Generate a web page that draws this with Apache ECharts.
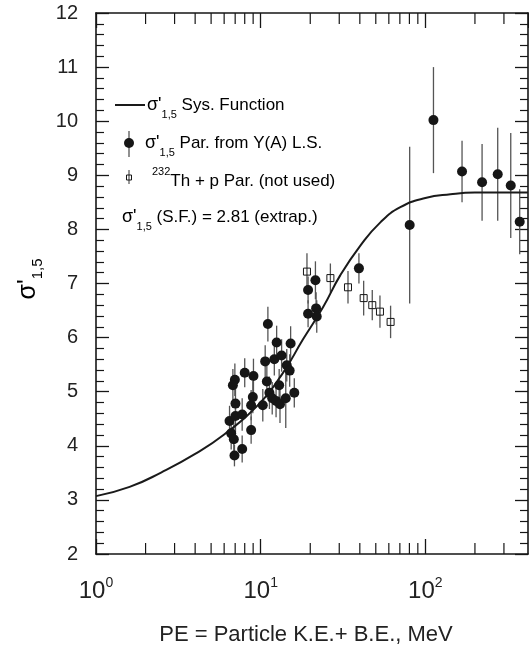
<!DOCTYPE html>
<html>
<head>
<meta charset="utf-8">
<title>sigma'1,5 systematics</title>
<script src="https://cdn.jsdelivr.net/npm/echarts@6/dist/echarts.min.js"></script>
<style>
  html, body { margin: 0; padding: 0; background: #fff; }
  #main { width: 529px; height: 656px; }
</style>
</head>
<body>
<div id="main"></div>
<script type="text/javascript">
  var FONT = '"Liberation Sans", Arial, sans-serif';
  var INK = '#161616';

  // systematics function
  var curveE = [1, 1.6, 2.5, 4, 6, 9.4, 13.6, 18, 24, 30.4, 40.3, 53.3, 70.5, 100, 142, 200, 420];
  var curveV = [3.07, 3.24, 3.51, 3.85, 4.21, 4.72, 5.34, 5.96, 6.57, 7.15, 7.70, 8.13, 8.41, 8.58, 8.65, 8.68, 8.68];

  // filled circles: parameter from Y(A) least squares
  var parE = [11.06, 12.5, 15.2, 10.65, 12.1, 13.4, 14.4, 15.0, 8.0, 9.04,
              6.97, 6.78, 10.9, 12.95, 11.3, 16.0, 7.03, 8.96, 8.75, 10.3,
              11.75, 12.4, 13.1, 14.2, 6.47, 7.03, 7.72, 8.75, 6.62, 6.87,
              7.72, 6.93,
              19.4, 21.5, 19.4, 21.7, 21.9, 39.5, 80.3, 112, 167, 221, 275, 330, 374];
  var parV = [6.25, 5.91, 5.89, 5.56, 5.60, 5.67, 5.49, 5.39, 5.35, 5.29,
              5.22, 5.12, 5.19, 5.12, 4.98, 4.98, 4.78, 4.90, 4.75, 4.75,
              4.88, 4.83, 4.77, 4.88, 4.46, 4.55, 4.58, 4.29, 4.23, 4.12,
              3.94, 3.82,
              6.88, 7.06, 6.44, 6.54, 6.39, 7.28, 8.08, 10.02, 9.07, 8.87, 9.02, 8.81, 8.14];
  var parErr = [0.32, 0.31, 0.32, 0.30, 0.30, 0.30, 0.30, 0.30, 0.27, 0.32,
                0.30, 0.30, 0.30, 0.30, 0.30, 0.27, 0.30, 0.30, 0.28, 0.30,
                0.30, 0.30, 0.35, 0.55, 0.28, 0.30, 0.30, 0.25, 0.30, 0.30,
                0.25, 0.20,
                0.25, 0.35, 0.25, 0.30, 0.30, 0.28, 1.45, 0.98, 0.57, 0.71, 0.86, 0.97, 0.60];

  // open squares: 232Th + p (not used)
  var thE = [19.1, 26.5, 33.9, 42.2, 47.6, 53.0, 61.5];
  var thV = [7.22, 7.10, 6.93, 6.73, 6.60, 6.48, 6.29];
  var thErr = [0.34, 0.27, 0.30, 0.32, 0.28, 0.30, 0.30];

  // log minor ticks
  var xMinor = [2, 3, 4, 5, 6, 7, 8, 9, 20, 30, 40, 50, 60, 70, 80, 90, 200, 300];

  function zip(a, b) {
    var out = [];
    for (var i = 0; i < a.length; i++) out.push([a[i], b[i]]);
    return out;
  }
  function bars(e, v, err) {
    var out = [];
    for (var i = 0; i < e.length; i++) out.push([e[i], v[i] - err[i], v[i] + err[i]]);
    return out;
  }

  function logAxis(pos, showLabel) {
    return {
      type: 'log', logBase: 10, min: 1, max: 420, position: pos,
      axisLine: { show: true, lineStyle: { color: INK, width: 1.6 } },
      axisTick: { show: true, inside: true, length: 15, lineStyle: { color: INK, width: 1.3 } },
      minorTick: { show: false },
      splitLine: { show: false },
      axisLabel: {
        show: showLabel, margin: 22, showMaxLabel: false,
        formatter: function (v) {
          var k = Math.round(Math.log10(v));
          if (Math.abs(Math.pow(10, k) - v) > 1e-6 * v) return '';
          return '{b|10}{s|' + k + '}';
        },
        rich: {
          b: { fontSize: 24, lineHeight: 30, color: '#222', fontFamily: FONT },
          s: { fontSize: 14, lineHeight: 14, verticalAlign: 'top', color: '#222', fontFamily: FONT }
        }
      }
    };
  }
  function linAxis(pos, showLabel) {
    return {
      type: 'value', min: 2, max: 12, interval: 1, position: pos,
      axisLine: { show: true, lineStyle: { color: INK, width: 1.6 } },
      axisTick: { show: true, inside: true, length: 13, lineStyle: { color: INK, width: 1.3 } },
      minorTick: { show: true, splitNumber: 5, length: 8, lineStyle: { color: INK, width: 1.2 } },
      splitLine: { show: false },
      minorSplitLine: { show: false },
      axisLabel: { show: showLabel, margin: 18, fontSize: 20, color: '#222', fontFamily: FONT }
    };
  }

  function errRender(params, api) {
    var p1 = api.coord([api.value(0), api.value(1)]);
    var p2 = api.coord([api.value(0), api.value(2)]);
    return {
      type: 'line',
      shape: { x1: p1[0], y1: p1[1], x2: p2[0], y2: p2[1] },
      style: { stroke: '#555', lineWidth: 1.3 }
    };
  }

  var subRich = {
    b: { fontSize: 17, lineHeight: 30, color: '#222', fontFamily: FONT },
    g: { fontSize: 18, lineHeight: 30, color: '#222', fontFamily: FONT },
    d: { fontSize: 11, lineHeight: 11, verticalAlign: 'bottom', color: '#222', fontFamily: FONT },
    u: { fontSize: 11, lineHeight: 11, verticalAlign: 'top', color: '#222', fontFamily: FONT }
  };
  function legendText(x, y, txt) {
    return {
      type: 'text', x: x, y: y, z: 100,
      style: { text: txt, rich: subRich, verticalAlign: 'middle', align: 'left' }
    };
  }

  var myChart = echarts.init(document.getElementById('main'));
  var option = {
    animation: false,
    backgroundColor: '#fff',
    grid: { left: 96, right: 1, top: 13, bottom: 102, containLabel: false, outerBoundsMode: 'none' },
    xAxis: [logAxis('bottom', true), logAxis('top', false)],
    yAxis: [linAxis('left', true), linAxis('right', false)],
    series: [
      {
        name: 'minor ticks', type: 'custom', silent: true,
        data: xMinor.map(function (v) { return [v, 2]; }),
        renderItem: function (params, api) {
          var x = api.coord([api.value(0), 2])[0];
          var top = params.coordSys.y, bot = params.coordSys.y + params.coordSys.height;
          var st = { stroke: INK, lineWidth: 1.2 };
          return {
            type: 'group', children: [
              { type: 'line', shape: { x1: x, y1: bot, x2: x, y2: bot - 11 }, style: st },
              { type: 'line', shape: { x1: x, y1: top, x2: x, y2: top + 11 }, style: st }
            ]
          };
        }
      },
      {
        name: 'par err', type: 'custom', z: 1, encode: { x: 0, y: [1, 2] },
        data: bars(parE, parV, parErr), renderItem: errRender
      },
      {
        name: 'th err', type: 'custom', z: 1, encode: { x: 0, y: [1, 2] },
        data: bars(thE, thV, thErr), renderItem: errRender
      },
      {
        name: 'Sys. Function', type: 'line', z: 3, showSymbol: false,
        smooth: 0.5,
        lineStyle: { color: '#1a1a1a', width: 2 },
        data: zip(curveE, curveV)
      },
      {
        name: 'Par. from Y(A) L.S.', type: 'scatter', z: 4, symbol: 'circle', symbolSize: 10,
        itemStyle: { color: INK, opacity: 1 },
        data: zip(parE, parV)
      },
      {
        name: '232Th + p Par.', type: 'scatter', z: 4, symbol: 'rect', symbolSize: 7,
        itemStyle: { color: 'rgba(0,0,0,0)', borderColor: INK, borderWidth: 1, opacity: 1 },
        data: zip(thE, thV)
      }
    ],
    graphic: [
      { type: 'line', z: 100, shape: { x1: 115, y1: 105, x2: 145, y2: 105 }, style: { stroke: '#1a1a1a', lineWidth: 2 } },
      legendText(147, 105, "{g|σ'}{d|1,5}{b| Sys. Function}"),
      { type: 'line', z: 100, shape: { x1: 129, y1: 131, x2: 129, y2: 157 }, style: { stroke: '#555', lineWidth: 1.3 } },
      { type: 'circle', z: 101, shape: { cx: 129, cy: 143, r: 5 }, style: { fill: INK } },
      legendText(145, 143, "{g|σ'}{d|1,5}{b| Par. from Y(A) L.S.}"),
      { type: 'line', z: 100, shape: { x1: 129, y1: 170, x2: 129, y2: 184 }, style: { stroke: '#555', lineWidth: 1.2 } },
      { type: 'rect', z: 101, shape: { x: 126.5, y: 175, width: 5, height: 5 }, style: { fill: 'none', stroke: INK, lineWidth: 1 } },
      legendText(152, 181, "{u|232}{b|Th + p Par. (not used)}"),
      legendText(122, 217, "{g|σ'}{d|1,5}{b| (S.F.) = 2.81 (extrap.)}"),
      {
        type: 'text', x: 28, y: 279, rotation: Math.PI / 2, z: 100,
        style: {
          text: "{g|σ'}{d|1,5}", align: 'center', verticalAlign: 'middle',
          rich: {
            g: { fontSize: 25, lineHeight: 34, color: '#222', fontFamily: FONT },
            d: { fontSize: 15, lineHeight: 15, verticalAlign: 'bottom', color: '#222', fontFamily: FONT }
          }
        }
      },
      {
        type: 'text', x: 306, y: 635, z: 100,
        style: {
          text: 'PE = Particle K.E.+ B.E., MeV', align: 'center', verticalAlign: 'middle',
          fontSize: 22, fill: '#222', fontFamily: FONT
        }
      }
    ]
  };
  myChart.setOption(option);
</script>
</body>
</html>
